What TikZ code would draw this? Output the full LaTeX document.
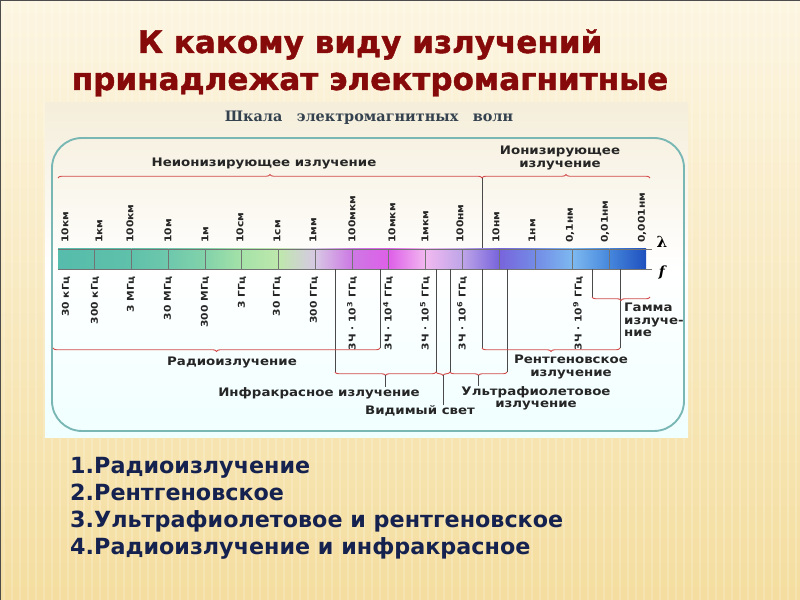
\documentclass[tikz,border=0pt]{standalone}
\usepackage{fontspec}
\setmainfont{DejaVu Sans}
\newfontfamily\lblfont[FakeStretch=1.14]{DejaVu Sans}
\newfontfamily\titlefont[FakeBold=1.3]{DejaVu Sans Bold}
\newfontfamily\serifbold{DejaVu Serif}
\usetikzlibrary{decorations.pathreplacing,calc}

\definecolor{titlered}{HTML}{870A0A}
\definecolor{listblue}{HTML}{15224F}
\definecolor{bracered}{HTML}{D24A4A}
\definecolor{framecyan}{HTML}{79B7B5}
\definecolor{bgtop}{HTML}{FCF5E1}
\definecolor{bgbot}{HTML}{F4DD9E}
\definecolor{tickgray}{HTML}{4A4A4A}
\definecolor{scaletxt}{HTML}{34424F}
% Farben der Skala (Grenzen der 16 Felder)
\definecolor{bar0}{RGB}{86,188,172}
\definecolor{bar1}{RGB}{90,190,170}
\definecolor{bar2}{RGB}{95,193,170}
\definecolor{bar3}{RGB}{110,200,172}
\definecolor{bar4}{RGB}{130,210,170}
\definecolor{bar5}{RGB}{165,226,168}
\definecolor{bar6}{RGB}{190,232,172}
\definecolor{bar7}{RGB}{215,200,228}
\definecolor{bar8}{RGB}{205,120,228}
\definecolor{bar9}{RGB}{222,95,232}
\definecolor{bar10}{RGB}{242,185,240}
\definecolor{bar11}{RGB}{190,165,232}
\definecolor{bar12}{RGB}{120,100,220}
\definecolor{bar13}{RGB}{115,140,230}
\definecolor{bar14}{RGB}{125,185,240}
\definecolor{bar15}{RGB}{70,135,220}
\definecolor{bar16}{RGB}{30,80,190}

\begin{document}
\begin{tikzpicture}[x=0.03cm,y=-0.03cm,
  titletxt/.style={font=\titlefont\fontsize{26.5}{30}\selectfont,text=titlered,inner sep=0pt,anchor=base},
  anstxt/.style={font=\bfseries\fontsize{19}{22}\selectfont,text=listblue,inner sep=0pt,anchor=base west},
  lbl/.style={font=\lblfont\bfseries\fontsize{10}{12}\selectfont,text=black!85,inner sep=0pt,align=center},
  lbltwo/.style={lbl,font=\lblfont\bfseries\fontsize{10}{10.5}\selectfont},
  wave/.style={font=\lblfont\bfseries\fontsize{8}{9}\selectfont,text=black!85,inner sep=0pt,rotate=90,anchor=west},
  freq/.style={wave,anchor=east},
  tick/.style={draw=tickgray,line width=0.7pt},
  redbrace/.style={draw=bracered,line width=0.8pt,decorate,decoration={brace,amplitude=3pt}}]
  % Hintergrund
  \useasboundingbox (0,0) rectangle (800,600);
  \shade[top color=bgtop,bottom color=bgbot] (0,0) rectangle (800,600);
  \draw[white,opacity=.2,line width=1.2pt] \foreach\x in {4,12,...,800} { (\x,0)--(\x,600) };
  \draw[black!70,line width=0.6pt] (0,0) rectangle (800,600);
  % Frage
  \node[titletxt] (t1) at (370,53) {К какому виду излучений};
  \node[titletxt] (t2) at (370,90) {принадлежат электромагнитные};
  % Bild der Skala
  \shade[top color=black!3!bgtop,bottom color=cyan!6,middle color=white] (45,103) rectangle (688,438);
  \node[font=\serifbold\bfseries\fontsize{12.3}{14}\selectfont,text=scaletxt,inner sep=0pt] (head) at (369,118)
    {Шкала\hspace{1em}электромагнитных\hspace{1em}волн};
  \draw[framecyan,line width=1.6pt,rounded corners=0.9cm] (52,138) rectangle (684,431);
  % Ionisierend / nicht ionisierend
  \coordinate (nl) at (58,178);
  \coordinate (nm) at (482,178);
  \coordinate (nr) at (650,178);
  \draw[redbrace] (nl) -- (nm);
  \draw[redbrace] (nm) -- (nr);
  \draw[tick] (nm) -- (482,249);
  \node[lbl] (nonion) at (264,163) {Неионизирующее излучение};
  \node[lbltwo] (ion) at (560,158) {Ионизирующее\\излучение};
  % Farbbalken
  \foreach \i [evaluate=\i as \j using int(\i+1)] in {0,...,15}
    \shade[left color=bar\i,right color=bar\j] ({58+36.75*\i},249) rectangle ({58+36.75*(\i+1)},269);
  \shade[left color=bar10,middle color={rgb,255:red,250;green,240;blue,214},right color=bar11] (425.5,249) rectangle (462.25,269);
  \draw[black!55,line width=0.5pt] \foreach \i in {1,...,15} { ({58+36.75*\i},249) -- ++(0,20) };
  \draw[black!55,line width=0.5pt] (58,249) -- (652,249) (58,269) -- (652,269);
  \node[font=\serifbold\bfseries\fontsize{13}{13}\selectfont,inner sep=0pt] (lam) at (662,242) {λ};
  \node[font=\serifbold\bfseries\itshape\fontsize{12}{12}\selectfont,inner sep=0pt] (fq) at (662,272) {f};
  % Wellenlaengen
  \foreach \x/\t in {65/10км,99/1км,130/100км,168/10м,205/1м,240/10см,277/1см,313/1мм,352/100мкм,
    392/10мкм,425/1мкм,460/100нм,496/10нм,532/1нм,570/{0,1нм},605/{0,01нм},642/{0,001нм}}
    \node[wave] (w\x) at (\x,243) {\t};
  % Frequenzen
  \foreach \x/\t in {66/30 кГц,95/300 кГц,131/3 МГц,168/30 МГц,205/300 МГц,242/3 ГГц,277/30 ГГц,314/300 ГГц}
    \node[freq] (f\x) at (\x,276) {\t};
  \foreach \x/\e in {352/3,388/4,425/5,462/6,578/9}
    \node[freq] (f\x) at (\x,276) {3Ч · 10\textsuperscript{\e} ГГц};
  % Grenzen der Bereiche
  \foreach \x/\y/\n in {335/372/irL,380/348/rdR,436/372/irR,450/372/uvL,482/348/xrL,507/372/uvR,592/297/gmL,620/348/xrR}
    { \coordinate (\n) at (\x,\y); \draw[tick] (\x,269) -- (\n); }
  \coordinate (rdL) at (53,348);
  \coordinate (gmR) at (650,297);
  \draw[redbrace] (rdR) -- (rdL);
  \draw[redbrace] (irR) -- (irL);
  \draw[redbrace] (uvL) -- (irR);
  \draw[redbrace] (uvR) -- (uvL);
  \draw[redbrace] (xrR) -- (xrL);
  \draw[redbrace] (gmR) -- (gmL);
  % Namen der Bereiche
  \node[lbl] (radio) at (232,362) {Радиоизлучение};
  \node[lbl] (ir) at (319,393) {Инфракрасное излучение};
  \node[lbl] (vis) at (420,411) {Видимый свет};
  \node[lbltwo] (uv) at (536,398) {Ультрафиолетовое\\излучение};
  \node[lbltwo] (xray) at (571,367) {Рентгеновское\\излучение};
  \node[lbltwo,align=left,anchor=north west] (gamma) at (624,303) {Гамма\\излуче-\\ние};
  \coordinate (irTip) at ($(irL)!.5!(irR)+(0,3.5)$);
  \coordinate (visTip) at ($(irR)!.5!(uvL)+(0,3.5)$);
  \coordinate (uvTip) at ($(uvL)!.5!(uvR)+(0,3.5)$);
  \draw[tick] (irTip) -- (irTip |- ir.north);
  \draw[tick] (visTip) -- (visTip |- vis.north);
  \draw[tick] (uvTip) -- (uvTip |- uv.north);
  % Antworten
  \node[anstxt] (a1) at (70,474) {1.Радиоизлучение};
  \node[anstxt] (a2) at (70,501) {2.Рентгеновское};
  \node[anstxt] (a3) at (70,528) {3.Ультрафиолетовое и рентгеновское};
  \node[anstxt] (a4) at (70,555) {4.Радиоизлучение и инфракрасное};
\end{tikzpicture}
\end{document}
